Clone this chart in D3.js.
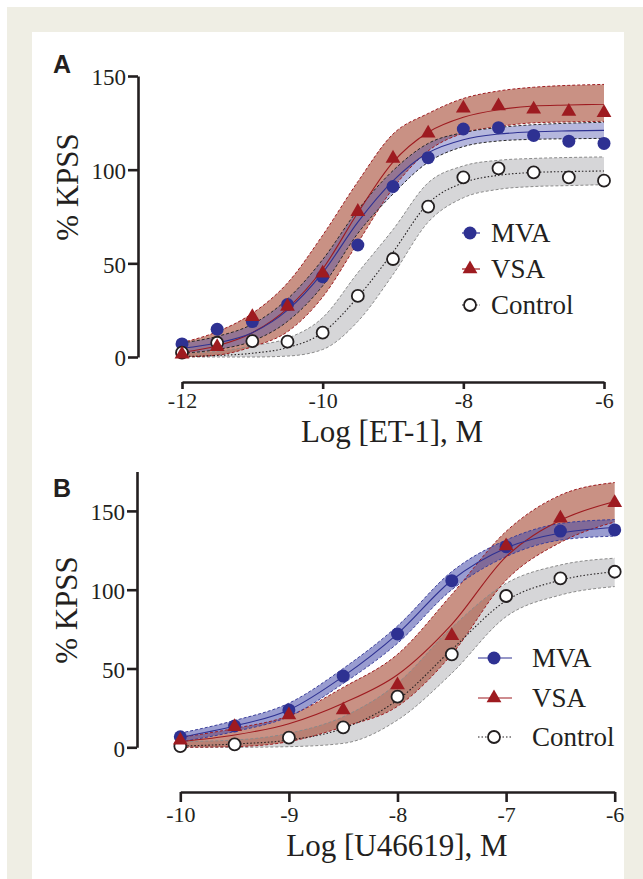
<!DOCTYPE html>
<html>
<head>
<meta charset="utf-8">
<script src="https://cdn.jsdelivr.net/npm/d3@7"></script>
<style>
  body { margin: 0; background: #fff; }
  svg { display: block; }
  text { font-family: "Liberation Serif", "Times New Roman", serif; fill: #231f20; }
</style>
</head>
<body>
<svg id="fig" width="643" height="879"></svg>
<script>
// ---- panel A : ET-1 ----
const doseA = [-12, -11.5, -11, -10.5, -10, -9.5, -9, -8.5, -8, -7.5, -7, -6.5, -6];
const mvaA = [7, 14.8, 18.9, 28, 42.9, 59.8, 91, 106.4, 121.7, 122.4, 118.3, 115.2, 114];
const vsaA = [1.5, 5.5, 21.5, 27, 44.7, 77.6, 106, 119.4, 132.8, 134, 132.2, 131, 130.4];
const ctlA = [2.3, 7.6, 8.5, 8.2, 13, 32.6, 52.3, 80.3, 95.9, 100.7, 98.6, 95.9, 94.1];
// fitted curves and 95% bands
const mvaFitA = [4.7, 7.5, 13, 25, 45, 72, 94, 109, 116, 119, 120.2, 120.7, 121];
const mvaHiA = [7.5, 11, 17.5, 31, 52, 78.5, 99.5, 114, 119.8, 122.5, 124, 124.8, 125.3];
const mvaLoA = [2, 4, 8.5, 19, 38, 66, 87, 104, 112.3, 115.3, 116.2, 116.5, 116.7];
const vsaFitA = [2.5, 6, 13, 26, 47, 77, 104, 120, 128, 132, 134, 134.5, 135];
const vsaHiA = [7.7, 13.5, 23.3, 39.5, 65, 93.6, 119, 130, 138, 142, 144, 145, 145.5];
const vsaLoA = [0, 1, 5.5, 13.5, 32, 61, 90, 110, 119.5, 123, 125, 125.5, 125.8];
const ctlFitA = [0.3, 0.8, 2, 5, 13, 32, 56, 82, 93, 97, 98.5, 99, 99.3];
const ctlHiA = [2, 3, 6, 10, 21, 45, 68, 93, 102, 105, 106, 106.5, 106.8];
const ctlLoA = [0, 0, 0, 0.5, 4, 19, 44, 72, 85, 89.5, 91, 91.5, 92];
const xTicksA = [-12, -10, -8, -6];
const yTicksA = [0, 50, 100, 150];

// ---- panel B : U46619 ----
const doseB = [-10, -9.5, -9, -8.5, -8, -7.5, -7, -6.5, -6];
const mvaB = [6.7, 13.5, 23.7, 45.2, 71.9, 105.7, 127.3, 137.2, 137.9];
const vsaB = [4.5, 13, 20.5, 23.7, 39.5, 70.8, 127.7, 145.3, 155.2];
const ctlB = [0.8, 1.9, 6.1, 12.7, 32.1, 59, 96, 107.2, 111.4];
const mvaFitB = [6.3, 13.5, 23.7, 45, 72, 106, 126.5, 136, 139.5];
const mvaHiB = [9, 17, 28, 50, 77, 111.5, 131.5, 142, 144.5];
const mvaLoB = [3.5, 10, 19.5, 40.5, 66, 100, 121, 131.5, 134];
const vsaFitB = [3.6, 7.8, 15, 28, 46, 78, 121, 144, 156];
const vsaHiB = [6.3, 12, 20, 38, 59, 97, 137, 160, 168];
const vsaLoB = [0, 0.4, 3.6, 13, 26, 59, 106, 130, 143];
const ctlFitB = [0.8, 2.1, 4.6, 12, 30, 62, 93, 106, 111.4];
const ctlHiB = [3.6, 4.6, 8.9, 19.4, 40.6, 76, 104, 115.7, 120];
const ctlLoB = [0, 0, 0.4, 2.5, 17.3, 47, 82.9, 96.6, 102];
const xTicksB = [-10, -9, -8, -7, -6];
const yTicksB = [0, 50, 100, 150];

const legendNames = ['MVA', 'VSA', 'Control'];

const ink = '#231f20';
const blue = '#2e3192';
const red = '#9e1b20';

const svg = d3.select('#fig');

// page frame
svg.append('rect').attr('x', 7).attr('y', 7).attr('width', 650).attr('height', 890).attr('fill', '#efeee4');
svg.append('rect').attr('x', 32).attr('y', 32).attr('width', 592).attr('height', 870).attr('fill', '#fff');

function marker(sel, type, cx, cy) {
  if (type === 'mva') {
    sel.append('circle').attr('cx', cx).attr('cy', cy).attr('r', 6.5).attr('fill', blue);
  } else if (type === 'vsa') {
    sel.append('path')
      .attr('d', d3.symbol(d3.symbolTriangle).size(95)())
      .attr('transform', `translate(${cx},${cy})`)
      .attr('fill', red);
  } else {
    sel.append('circle').attr('cx', cx).attr('cy', cy).attr('r', 6)
      .attr('fill', '#fff').attr('stroke', ink).attr('stroke-width', 1.8);
  }
}

function drawPanel(p) {
  const x = d3.scaleLinear().domain(p.xDomain).range(p.xRange);
  const y = d3.scaleLinear().domain(p.yDomain).range(p.yRange);
  const g = svg.append('g');

  const rows = s => p.dose.map((d, i) => ({ d: d, fit: s.fit[i], lo: s.lo[i], hi: s.hi[i] }));

  const band = d3.area().curve(d3.curveMonotoneX)
    .x(r => x(r.d)).y0(r => y(r.lo)).y1(r => y(r.hi));
  const line = key => d3.line().curve(d3.curveMonotoneX)
    .x(r => x(r.d)).y(r => y(r[key]));

  // bands: control under, then VSA, then MVA
  const order = ['ctl', 'vsa', 'mva'];
  order.forEach(k => {
    const s = p.series[k];
    g.append('path').datum(rows(s)).attr('d', band)
      .attr('fill', s.band).attr('fill-opacity', s.bandOp).attr('stroke', 'none');
  });
  order.forEach(k => {
    const s = p.series[k];
    ['lo', 'hi'].forEach(e => {
      g.append('path').datum(rows(s)).attr('d', line(e))
        .attr('fill', 'none').attr('stroke', s.edge).attr('stroke-width', 1)
        .attr('stroke-dasharray', '3,2');
    });
  });
  order.forEach(k => {
    const s = p.series[k];
    g.append('path').datum(rows(s)).attr('d', line('fit'))
      .attr('fill', 'none').attr('stroke', s.line).attr('stroke-width', 1.1)
      .attr('stroke-dasharray', k === 'ctl' ? '1.5,2' : null);
  });

  // points
  ['mva', 'ctl', 'vsa'].forEach(k => {
    const s = p.series[k];
    s.pts.forEach((v, i) => marker(g, k, x(p.dose[i]), y(v)));
  });

  // y axis
  const ya = g.append('g').attr('transform', `translate(${p.yAxisX},0)`)
    .call(d3.axisLeft(y).tickValues(p.yTicks).tickSize(10).tickSizeOuter(0).tickPadding(2)
      .tickFormat(d => String(d)));
  ya.select('.domain').attr('stroke', ink).attr('stroke-width', 2.6);
  ya.selectAll('.tick line').attr('stroke', ink).attr('stroke-width', 2.6);
  ya.selectAll('.tick text').attr('font-family', '"Liberation Serif", serif')
    .attr('font-size', 23).attr('fill', ink).attr('dy', '0.38em');

  // x axis
  const xa = g.append('g').attr('transform', `translate(0,${p.xAxisY})`)
    .call(d3.axisBottom(x).tickValues(p.xTicks).tickSize(p.xTickLen).tickSizeOuter(0)
      .tickFormat(d => String(d)));
  xa.select('.domain').attr('stroke', ink).attr('stroke-width', 2.6);
  xa.selectAll('.tick line').attr('stroke', ink).attr('stroke-width', 2.6);
  xa.selectAll('.tick text').attr('font-family', '"Liberation Serif", serif')
    .attr('font-size', 22).attr('fill', ink).attr('y', p.xLabelDy).attr('dy', 0);

  // titles
  g.append('text').attr('x', p.xTitle[0]).attr('y', p.xTitle[1])
    .attr('text-anchor', 'middle').attr('font-size', 31).text(p.xLabel);
  g.append('text').attr('transform', `translate(${p.yTitle[0]},${p.yTitle[1]}) rotate(-90)`)
    .attr('text-anchor', 'middle').attr('font-size', 31).text('% KPSS');
  g.append('text').attr('x', 53).attr('y', p.letterY)
    .style('font-family', '"Liberation Sans", Arial, sans-serif')
    .attr('font-weight', 'bold').attr('font-size', 25).text(p.letter);

  // legend
  const lg = g.append('g');
  ['mva', 'vsa', 'ctl'].forEach((k, i) => {
    const s = p.series[k];
    const cy = p.legend.rows[i];
    lg.append('line').attr('x1', p.legend.line[0]).attr('x2', p.legend.line[1])
      .attr('y1', cy).attr('y2', cy).attr('stroke', s.line).attr('stroke-width', 1.2)
      .attr('stroke-dasharray', k === 'ctl' ? '1.5,2' : null);
    marker(lg, k, p.legend.mx, cy);
    lg.append('text').attr('x', p.legend.tx).attr('y', cy + 9)
      .attr('font-size', 27).text(legendNames[i]);
  });
}

drawPanel({
  letter: 'A', letterY: 73,
  dose: doseA, xDomain: [-12, -6], xRange: [182, 604],
  yDomain: [0, 150], yRange: [357, 76],
  xTicks: xTicksA, yTicks: yTicksA,
  yAxisX: 138, xAxisY: 382, xTickLen: 7, xLabelDy: 26,
  xLabel: 'Log [ET-1], M', xTitle: [392, 442], yTitle: [78, 187],
  series: {
    mva: { pts: mvaA, fit: mvaFitA, lo: mvaLoA, hi: mvaHiA, band: 'rgb(70,75,170)', bandOp: 0.4, edge: '#2a2a2a', line: blue },
    vsa: { pts: vsaA, fit: vsaFitA, lo: vsaLoA, hi: vsaHiA, band: 'rgb(165,72,50)', bandOp: 0.6, edge: red, line: red },
    ctl: { pts: ctlA, fit: ctlFitA, lo: ctlLoA, hi: ctlHiA, band: '#c4c5c7', bandOp: 0.7, edge: '#8a8a8a', line: ink }
  },
  legend: { rows: [233, 269, 305], line: [462, 480], mx: 470, tx: 491 }
});

drawPanel({
  letter: 'B', letterY: 497,
  dose: doseB, xDomain: [-10, -6], xRange: [180.3, 614.7],
  yDomain: [0, 175], yRange: [747.3, 471.5],
  xTicks: xTicksB, yTicks: yTicksB,
  yAxisX: 137, xAxisY: 792, xTickLen: 10, xLabelDy: 30,
  xLabel: 'Log [U46619], M', xTitle: [397, 856], yTitle: [77, 610],
  series: {
    mva: { pts: mvaB, fit: mvaFitB, lo: mvaLoB, hi: mvaHiB, band: 'rgb(70,75,170)', bandOp: 0.55, edge: '#3b3f9a', line: blue },
    vsa: { pts: vsaB, fit: vsaFitB, lo: vsaLoB, hi: vsaHiB, band: 'rgb(165,72,50)', bandOp: 0.6, edge: red, line: red },
    ctl: { pts: ctlB, fit: ctlFitB, lo: ctlLoB, hi: ctlHiB, band: '#c4c5c7', bandOp: 0.7, edge: '#8a8a8a', line: ink }
  },
  legend: { rows: [658, 698, 737], line: [478, 512], mx: 494, tx: 532 }
});
</script>
</body>
</html>
